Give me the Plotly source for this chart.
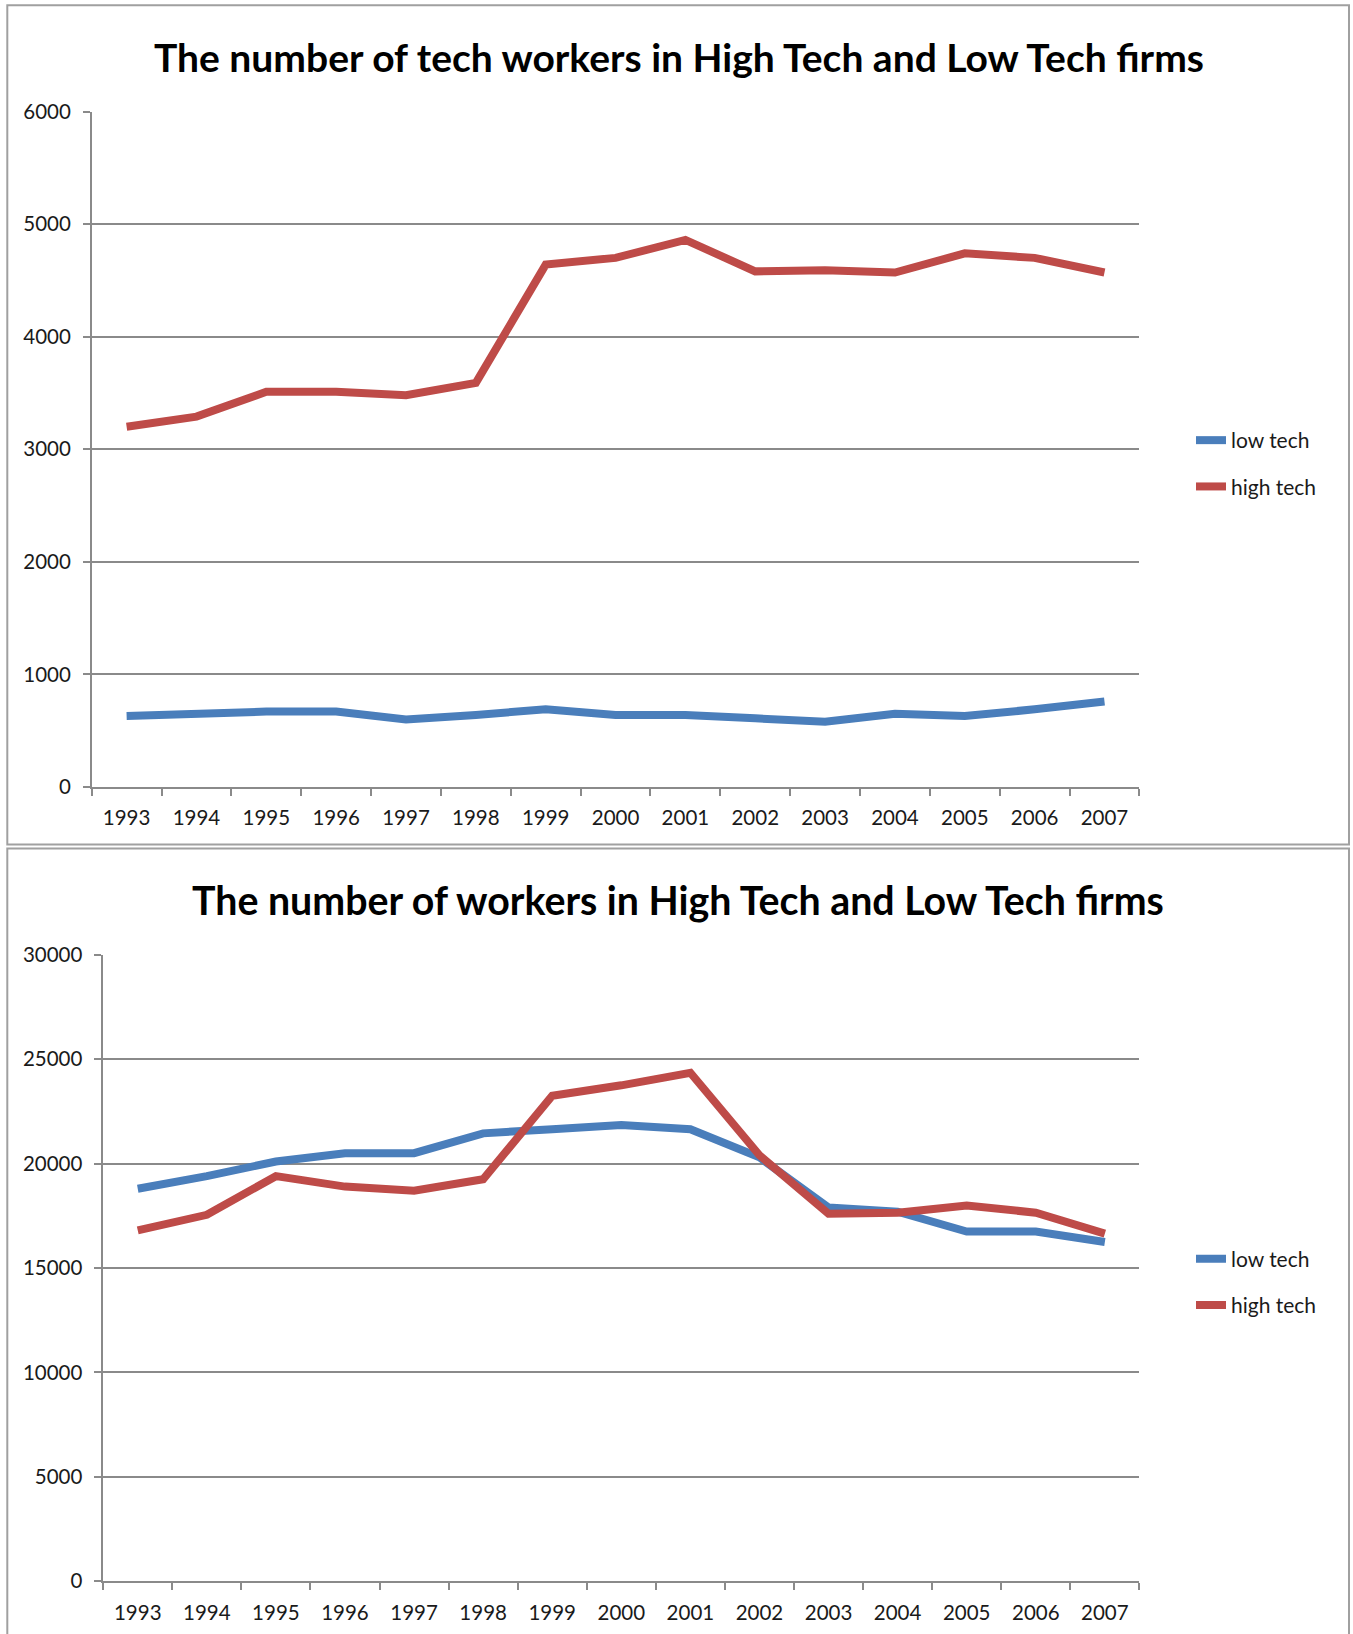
import plotly.graph_objects as go

years = ["1993", "1994", "1995", "1996", "1997", "1998", "1999", "2000",
         "2001", "2002", "2003", "2004", "2005", "2006", "2007"]

# Chart 1: tech workers
tech_low = [630, 650, 670, 670, 600, 640, 690, 640, 640, 610, 580, 650, 630, 690, 760]
tech_high = [3200, 3290, 3510, 3510, 3480, 3590, 4640, 4700, 4860, 4580, 4590, 4570, 4740, 4700, 4570]

# Chart 2: all workers
all_low = [18800, 19400, 20100, 20500, 20500, 21450, 21650, 21850, 21650, 20300, 17900, 17700, 16750, 16750, 16250]
all_high = [16800, 17550, 19400, 18900, 18700, 19250, 23250, 23750, 24350, 20400, 17600, 17650, 18000, 17650, 16650]

title1 = "The number of tech workers in High Tech and Low Tech firms"
title2 = "The number of workers in High Tech and Low Tech firms"
names = ["low tech", "high tech"]

W, H = 1353, 1634
BLUE = "#4A7EBB"
RED = "#BE4B48"
GRID = "#8a8a8a"
FONT = "Lato"

def px(x):
    return x / W

def py(y):
    return 1 - y / H

fig = go.Figure()

fig.add_trace(go.Scatter(x=years, y=tech_low, name=names[0], mode="lines",
                         line=dict(color=BLUE, width=8), xaxis="x", yaxis="y",
                         legend="legend", legendgroup="a"))
fig.add_trace(go.Scatter(x=years, y=tech_high, name=names[1], mode="lines",
                         line=dict(color=RED, width=8), xaxis="x", yaxis="y",
                         legend="legend", legendgroup="b"))
fig.add_trace(go.Scatter(x=years, y=all_low, name=names[0], mode="lines",
                         line=dict(color=BLUE, width=8), xaxis="x2", yaxis="y2",
                         legend="legend2", legendgroup="c"))
fig.add_trace(go.Scatter(x=years, y=all_high, name=names[1], mode="lines",
                         line=dict(color=RED, width=8), xaxis="x2", yaxis="y2",
                         legend="legend2", legendgroup="d"))

tickfont = dict(family=FONT, size=20.5, color="#1a1a1a")

xcommon = dict(type="category", range=[-0.5, len(years) - 0.5], showline=True,
               linecolor=GRID, linewidth=1.5, automargin=False,
               ticks="outside", tickson="boundaries", ticklen=7, tickcolor=GRID,
               tickwidth=1.5, showgrid=False, tickfont=tickfont, ticklabelstandoff=12,
               fixedrange=True)
ycommon = dict(showline=True, linecolor=GRID, linewidth=1.5, ticks="outside",
               ticklen=7, tickcolor=GRID, tickwidth=1.5, showgrid=True,
               gridcolor=GRID, gridwidth=1.5, zeroline=False, tickfont=tickfont,
               ticklabelstandoff=8, fixedrange=True, automargin=False,
               tickformat="d")

legend_common = dict(font=dict(family=FONT, size=21, color="#1a1a1a"),
                     xanchor="left", yanchor="middle", bgcolor="rgba(0,0,0,0)",
                     tracegroupgap=16, traceorder="grouped", itemwidth=30)

fig.update_layout(
    width=W, height=H,
    margin=dict(l=0, r=0, t=0, b=0, autoexpand=False),
    paper_bgcolor="white", plot_bgcolor="white",
    font=dict(family=FONT),
    xaxis=dict(domain=[px(91.7), px(1139.4)], anchor="y", **xcommon),
    yaxis=dict(domain=[py(787), py(111.5)], anchor="x", range=[0, 6000],
               dtick=1000, **ycommon),
    xaxis2=dict(domain=[px(103.2), px(1139.4)], anchor="y2", **xcommon),
    yaxis2=dict(domain=[py(1581.3), py(954.8)], anchor="x2", range=[0, 30000],
                dtick=5000, **ycommon),
    legend=dict(x=px(1191), y=py(463.5), **legend_common),
    legend2=dict(x=px(1191), y=py(1282), **legend_common),
    showlegend=True,
    annotations=[
        dict(text="<b>" + title1 + "</b>", x=px(678.6), y=py(57.3), xref="paper",
             yref="paper", showarrow=False, xanchor="center", yanchor="middle",
             font=dict(family=FONT, size=39, color="black")),
        dict(text="<b>" + title2 + "</b>", x=px(678), y=py(899.6), xref="paper",
             yref="paper", showarrow=False, xanchor="center", yanchor="middle",
             font=dict(family=FONT, size=39.3, color="black")),
    ],
    shapes=[
        dict(type="rect", xref="paper", yref="paper", x0=px(7.3), x1=px(1349),
             y0=py(844.4), y1=py(5.2), line=dict(color="#a0a0a0", width=2)),
        dict(type="rect", xref="paper", yref="paper", x0=px(7.3), x1=px(1349),
             y0=py(1700), y1=py(848.5), line=dict(color="#a0a0a0", width=2)),
    ],
)

fig.write_html("out.html", config={"displayModeBar": False},
               post_script="document.body.style.margin='0';document.body.style.overflow='hidden';")
